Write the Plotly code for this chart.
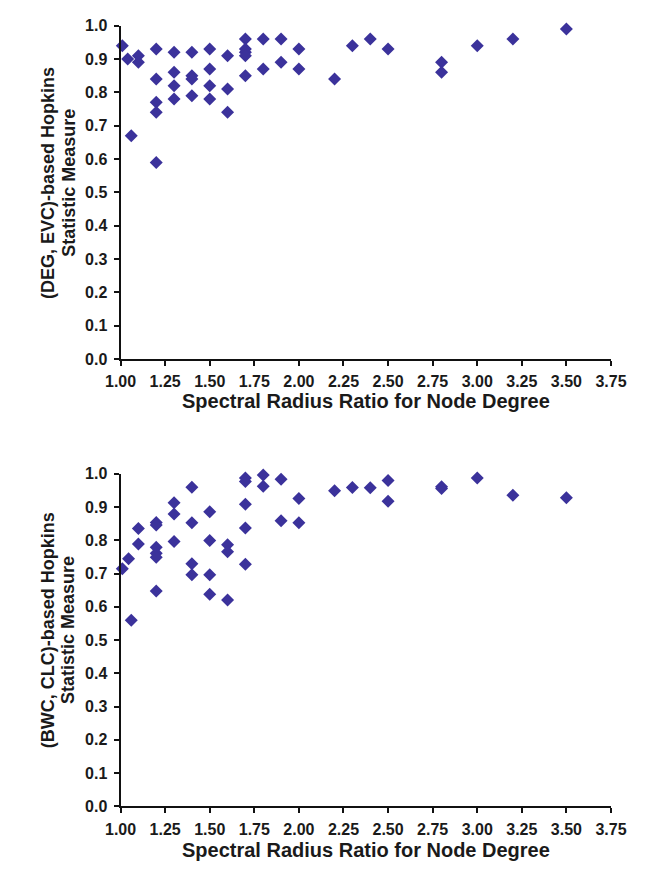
import plotly.graph_objects as go

# ---- data ----
deg_evc_x = [1.01, 1.04, 1.06, 1.10, 1.10,
             1.2, 1.2, 1.2, 1.2, 1.2,
             1.3, 1.3, 1.3, 1.3,
             1.4, 1.4, 1.4, 1.4,
             1.5, 1.5, 1.5, 1.5,
             1.6, 1.6, 1.6,
             1.7, 1.7, 1.7, 1.7, 1.7,
             1.8, 1.8, 1.9, 1.9, 2.0, 2.0,
             2.2, 2.3, 2.4, 2.5, 2.8, 2.8, 3.0, 3.2, 3.5]
deg_evc_y = [0.94, 0.90, 0.67, 0.91, 0.89,
             0.93, 0.84, 0.77, 0.74, 0.59,
             0.92, 0.86, 0.82, 0.78,
             0.92, 0.85, 0.84, 0.79,
             0.93, 0.87, 0.82, 0.78,
             0.91, 0.81, 0.74,
             0.96, 0.93, 0.92, 0.91, 0.85,
             0.96, 0.87, 0.96, 0.89, 0.93, 0.87,
             0.84, 0.94, 0.96, 0.93, 0.89, 0.86, 0.94, 0.96, 0.99]

bwc_clc_x = [1.01, 1.045, 1.06, 1.10, 1.10,
             1.2, 1.2, 1.2, 1.2, 1.2, 1.2,
             1.3, 1.3, 1.3,
             1.4, 1.4, 1.4, 1.4,
             1.5, 1.5, 1.5, 1.5,
             1.6, 1.6, 1.6,
             1.7, 1.7, 1.7, 1.7, 1.7,
             1.8, 1.8, 1.9, 1.9, 2.0, 2.0,
             2.2, 2.3, 2.4, 2.5, 2.5, 2.8, 2.8, 3.0, 3.2, 3.5]
bwc_clc_y = [0.715, 0.745, 0.56, 0.836, 0.789,
             0.854, 0.846, 0.779, 0.761, 0.749, 0.648,
             0.913, 0.879, 0.797,
             0.96, 0.853, 0.73, 0.697,
             0.886, 0.80, 0.697, 0.638,
             0.787, 0.766, 0.621,
             0.988, 0.977, 0.909, 0.837, 0.728,
             0.997, 0.963, 0.984, 0.859, 0.926, 0.853,
             0.949, 0.959, 0.958, 0.98, 0.918, 0.961, 0.956, 0.988, 0.936, 0.928]

x_title = "Spectral Radius Ratio for Node Degree"
y_title_top = ["(DEG, EVC)-based Hopkins", "Statistic Measure"]
y_title_bottom = ["(BWC, CLC)-based Hopkins", "Statistic Measure"]

# ---- styling ----
W, H = 646, 886
MARK = "#3b329b"
TXT = "#1a1a1a"
FONT = "Liberation Sans"

fig = go.Figure()
fig.add_trace(go.Scatter(x=deg_evc_x, y=deg_evc_y, mode="markers", xaxis="x", yaxis="y",
                         marker=dict(symbol="diamond", size=10, color=MARK, line=dict(width=0)),
                         cliponaxis=False, showlegend=False))
fig.add_trace(go.Scatter(x=bwc_clc_x, y=bwc_clc_y, mode="markers", xaxis="x2", yaxis="y2",
                         marker=dict(symbol="diamond", size=10, color=MARK, line=dict(width=0)),
                         cliponaxis=False, showlegend=False))

xdom = [110 / W, 626 / W]
top_dom = [1 - 358 / H, 1 - 18 / H]
bot_dom = [1 - 814 / H, 1 - 475 / H]

tickfont = dict(family=FONT, size=16, color=TXT, weight="bold")

def xax(anchor):
    return dict(domain=xdom, anchor=anchor, range=[1, 3.75], tick0=1, dtick=0.25,
                tickformat=".2f", showgrid=False, zeroline=False, showline=True,
                linecolor="#111", linewidth=2, ticks="outside", ticklen=5, tickwidth=2,
                tickcolor="#111", tickfont=tickfont, ticklabelstandoff=2, fixedrange=True)

def yax(anchor, dom):
    return dict(domain=dom, anchor=anchor, range=[0, 1], tick0=0, dtick=0.1,
                tickformat=".1f", showgrid=False, zeroline=False, showline=True,
                linecolor="#111", linewidth=2, ticks="outside", ticklen=5, tickwidth=2,
                tickcolor="#111", tickfont=tickfont, ticklabelstandoff=3, fixedrange=True)

xt_font = dict(family=FONT, size=20, color=TXT, weight="bold")
yt_font = dict(family=FONT, size=18, color=TXT, weight="bold")

annotations = []
for yc in (401, 858):
    annotations.append(dict(text=x_title, x=368 / W, y=1 - yc / H, xref="paper", yref="paper",
                            showarrow=False, xanchor="center", yanchor="middle", font=xt_font))
for lines, yc in ((y_title_top, 178), (y_title_bottom, 634)):
    for txt, xc in zip(lines, (33, 55)):
        annotations.append(dict(text=txt, x=xc / W, y=1 - yc / H, xref="paper", yref="paper",
                                showarrow=False, xanchor="center", yanchor="middle",
                                textangle=-90, font=yt_font))

fig.update_layout(
    width=W, height=H,
    margin=dict(l=0, r=0, t=0, b=0),
    paper_bgcolor="white", plot_bgcolor="white",
    xaxis=xax("y"), yaxis=yax("x", top_dom),
    xaxis2=xax("y2"), yaxis2=yax("x2", bot_dom),
    annotations=annotations,
    font=dict(family=FONT),
)

fig.write_html("out.html", post_script="document.body.style.margin='0';",
               config={"displayModeBar": False})
